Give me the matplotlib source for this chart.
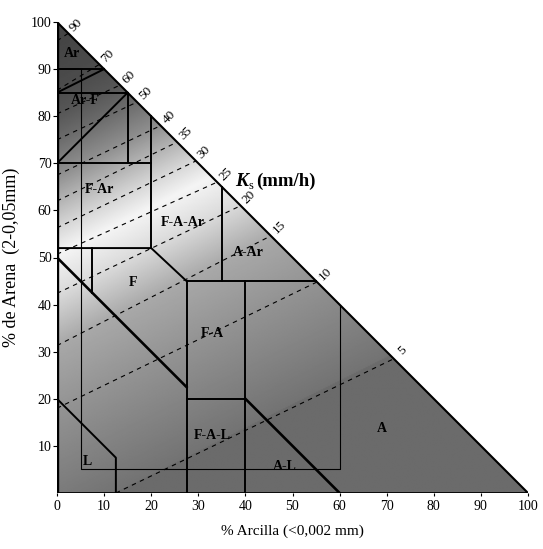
import numpy as np
import matplotlib.pyplot as plt
from matplotlib.patches import Polygon

plt.rcParams['font.family'] = ['Liberation Serif', 'DejaVu Serif']

# ---------------------------------------------------------------------------
# Ks isolines (mm/h): start point (clay, sand), end clay on the sand+clay=100 edge
ks_levels = [90, 70, 60, 50, 40, 35, 30, 25, 20, 15, 10, 5]
ks_start_clay = [0, 0, 0, 0, 0, 0, 0, 0, 0, 0, 0, 12.5]
ks_start_sand = [96, 85.5, 80.5, 75, 67.5, 62, 56.3, 50.7, 42.4, 31.3, 18, 0]
ks_end_clay = [2.4, 9, 13.4, 17, 22, 25.5, 29.5, 34, 39, 45.4, 55.2, 71.5]

# texture class boundaries (clay %, sand %)
class_lines = [
    [(0, 90), (10, 90)],
    [(0, 85), (10, 90)],
    [(0, 85), (15, 85)],
    [(0, 70), (15, 85)],
    [(15, 85), (15, 70)],
    [(0, 70), (20, 70)],
    [(20, 80), (20, 52)],
    [(0, 52), (20, 52), (27.5, 45)],
    [(7.5, 52), (7.5, 42.5)],
    [(27.5, 45), (27.5, 0)],
    [(27.5, 45), (55, 45)],
    [(35, 65), (35, 45)],
    [(40, 45), (40, 0)],
    [(27.5, 20), (40, 20)],
    [(0, 20), (12.5, 7.5), (12.5, 0)],
]
heavy_lines = [
    [(0, 50), (27.5, 22.5)],
    [(40, 20), (60, 0)],
]
# range of validity of the Ks equations
valid_frame = [(5, 90), (5, 5), (60, 5), (60, 40)]

class_names = ['Ar', 'Ar-F', 'F-Ar', 'F-A-Ar', 'A-Ar', 'F', 'F-A', 'F-A-L', 'A-L', 'L', 'A']
class_clay = [3.2, 6.0, 9.0, 26.8, 40.6, 16.2, 33.0, 32.9, 48.4, 6.4, 69.0]
class_sand = [93.3, 83.3, 64.5, 57.4, 51.1, 44.6, 33.8, 12.3, 5.6, 6.7, 13.6]

ticks = list(range(0, 101, 10))

# grey level behind each isoline (dark at both ends, white in the middle)
ks_grey = [0.27, 0.30, 0.34, 0.42, 0.56, 0.70, 0.84, 0.96, 0.86, 0.66, 0.58, 0.45]

# ---------------------------------------------------------------------------
fig = plt.figure(figsize=(5.43, 5.49), dpi=100)
ax = fig.add_axes([57 / 543, 52 / 549, 471 / 543, 479 / 549])
ax.set_xlim(0, 100)
ax.set_ylim(0, 100)
for s in ax.spines.values():
    s.set_visible(False)

# shaded background, interpolated across the isolines
start_v = np.array(ks_start_sand) - 0.5 * np.array(ks_start_clay)
order = np.argsort(start_v)
cc, ss = np.meshgrid(np.linspace(0, 100, 400), np.linspace(0, 100, 400))
vv = ss - 0.5 * cc
grey = np.interp(vv, start_v[order], np.array(ks_grey)[order], left=0.42)
img = ax.imshow(grey, extent=(0, 100, 0, 100), origin='lower', cmap='gray',
                vmin=0, vmax=1, interpolation='bilinear', zorder=0)
tri = Polygon([(0, 0), (0, 100), (100, 0)], closed=True, facecolor='none',
              edgecolor='none', transform=ax.transData)
ax.add_patch(tri)
img.set_clip_path(tri)

# isolines and their labels
for k, c0, s0, c1 in zip(ks_levels, ks_start_clay, ks_start_sand, ks_end_clay):
    ax.plot([c0, c1], [s0, 100 - c1], color='k', lw=0.8, ls=(0, (4, 4)), zorder=2)
    ax.annotate(str(k), (c1, 100 - c1), xytext=(6, 6), textcoords='offset points',
                ha='center', va='center', rotation=45, fontsize=9.5, zorder=5)

# texture classes
for line in class_lines:
    x, y = zip(*line)
    ax.plot(x, y, color='k', lw=1.4, zorder=3)
for line in heavy_lines:
    x, y = zip(*line)
    ax.plot(x, y, color='k', lw=1.9, zorder=3)
x, y = zip(*valid_frame)
ax.plot(x, y, color='k', lw=0.8, zorder=3)

# triangle border
ax.plot([0, 0], [0, 100], color='k', lw=2.4, zorder=4, solid_capstyle='butt')
ax.plot([0, 100], [100, 0], color='k', lw=1.5, zorder=4)
ax.plot([0, 100], [0, 0], color='k', lw=2.0, zorder=4)

for name, c, s in zip(class_names, class_clay, class_sand):
    ax.text(c, s, name, ha='center', va='center', fontsize=10, fontweight='bold', zorder=5)

# Ks(mm/h) title along the hypotenuse
ax.annotate('K', (37.8, 65.1), xytext=(0, 0), textcoords='offset points',
            fontsize=14, fontweight='bold', style='italic', ha='left', va='baseline')
ax.annotate('s', (37.8, 65.1), xytext=(10, -2), textcoords='offset points',
            fontsize=9, ha='left', va='baseline')
ax.annotate('(mm/h)', (37.8, 65.1), xytext=(15, 0), textcoords='offset points',
            fontsize=13.5, fontweight='bold', ha='left', va='baseline')

ax.set_xticks(ticks)
ax.set_xticklabels([str(t) for t in ticks], fontsize=10)
ax.set_yticks(ticks[1:])
ax.set_yticklabels([str(t) for t in ticks[1:]], fontsize=10)
ax.tick_params(axis='x', length=2, pad=3)
ax.tick_params(axis='y', length=3, pad=1)

ax.set_xlabel('% Arcilla (<0,002 mm)', fontsize=11, labelpad=8)
ax.set_ylabel('% de Arena  (2-0,05mm)', fontsize=13, labelpad=8)

fig.savefig('out.png', dpi=100)
